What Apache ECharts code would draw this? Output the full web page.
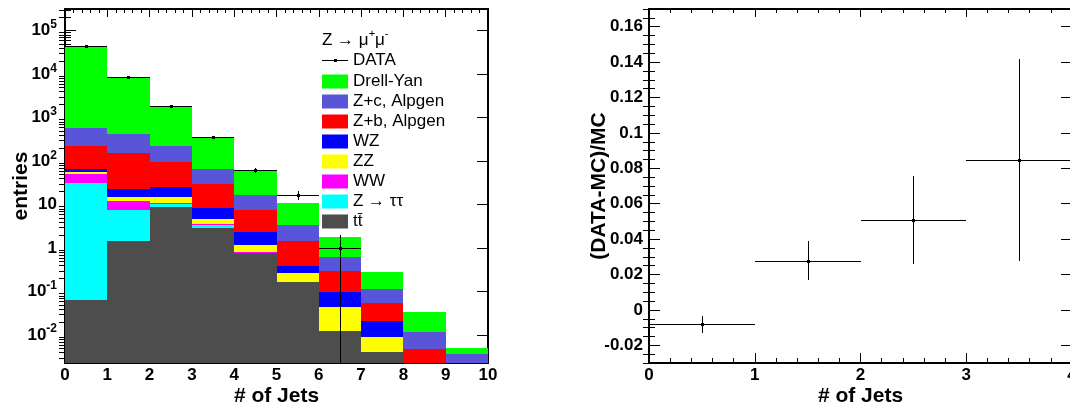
<!DOCTYPE html>
<html>
<head>
<meta charset="UTF-8">
<title>Jet multiplicity, Z to mumu</title>
<style type="text/css">
  html, body { margin:0; padding:0; background-color:#FFFFFF; }
  #container { width:1070px; height:406px; }
</style>
<script src="https://cdn.jsdelivr.net/npm/echarts@6/dist/echarts.min.js"></script>
</head>
<body>
<div id="container"></div>
<script type="text/javascript">

// bins in number of jets
var binLow  = [0, 1, 2, 3, 4, 5, 6, 7, 8, 9];
var binHigh = [1, 2, 3, 4, 5, 6, 7, 8, 9, 10];

// MC components per bin (entries), bottom of the stack first
var ttbar    = [0.064, 1.45, 8.9, 2.94, 0.757, 0.163, 0.0126, 0.0041, 0, 0];
var ztautau  = [31.7, 6.05, 1.4, 0.45, 0.02, 0, 0, 0, 0, 0];
var ww       = [19.5, 4.6, 0.7, 0.13, 0.04, 0, 0, 0, 0, 0];
var zz       = [5.7, 2.8, 3.7, 1.06, 0.35, 0.108, 0.0322, 0.0050, 0, 0];
var wz       = [7.7, 7.9, 10.3, 3.6, 1.21, 0.122, 0.0512, 0.0122, 0, 0];
var zb       = [158, 133, 70.5, 21.5, 5.1, 1.09, 0.201, 0.0323, 0.00469, 0];
var zc       = [365, 271, 127.5, 36, 9.1, 1.91, 0.315, 0.0604, 0.00684, 0.00366];
var drellYan = [43900, 8040, 1507, 274, 44.8, 7.3, 1.16, 0.167, 0.0223, 0.00136];

var stackValues = [ttbar, ztautau, ww, zz, wz, zb, zc, drellYan];
var stackNames  = ['tt\u0304', 'Z \u2192 \u03c4\u03c4', 'WW', 'ZZ', 'WZ', 'Z+b, Alpgen', 'Z+c, Alpgen', 'Drell-Yan'];
var stackColors = ['#4d4d4d', '#00ffff', '#ff00ff', '#ffff00', '#0000ff', '#ff0000', '#5954d8', '#00ff00'];

// data (first 7 bins)
var dataCounts = [44100, 8700, 1820, 369, 62, 17, 1];
var dataErrors = [210, 93, 43, 19, 7.9, 4.1, 1];

// (DATA-MC)/MC for the first 4 bins
var ratioValues = [-0.0081, 0.0277, 0.0508, 0.0847];
var ratioErrors = [0.0047, 0.011, 0.0251, 0.057];

// axes
var logMin = -2.64, logMax = 5.5;          // log10(entries)
var logTicks = [-2, -1, 0, 1, 2, 3, 4, 5];
var ratioMin = -0.03, ratioMax = 0.17;
var ratioTicks = [-0.02, 0, 0.02, 0.04, 0.06, 0.08, 0.1, 0.12, 0.14, 0.16];

var font = "'Liberation Sans', Arial, Helvetica, sans-serif";

var logMinorTicks = [];
for (var n = -3; n <= 5; n++) {
	for (var k = 2; k <= 9; k++) {
		var lv = Math.log10(k) + n;
		if (lv > logMin && lv < logMax) logMinorTicks.push(lv);
	}
}
var ratioMinorTicks = [];
for (var m = -6; m <= 34; m++) {
	if (m % 4 != 0) ratioMinorTicks.push(m * 0.005);
}

// stacked histogram rows: [low, high, log(bottom), log(top)]
var stackSeries = [];
var below = [0, 0, 0, 0, 0, 0, 0, 0, 0, 0];
for (var i = 0; i < stackValues.length; i++) {
	var rows = [];
	for (var b = 0; b < binLow.length; b++) {
		var v = stackValues[i][b];
		if (v > 0) {
			var lo = below[b] > 0 ? Math.log10(below[b]) : logMin;
			rows.push([binLow[b], binHigh[b], lo, Math.log10(below[b] + v)]);
		}
		below[b] += v;
	}
	stackSeries.push({
		type: 'custom',
		name: stackNames[i],
		xAxisIndex: 0,
		yAxisIndex: 0,
		itemStyle: { color: stackColors[i] },
		clip: true,
		silent: true,
		z: 2,
		renderItem: renderBin,
		data: rows
	});
}

var dataRows = [];
for (var d = 0; d < dataCounts.length; d++) {
	var down = dataCounts[d] - dataErrors[d];
	dataRows.push([binLow[d], binHigh[d], (binLow[d] + binHigh[d]) / 2,
		Math.log10(dataCounts[d]),
		down > 0 ? Math.log10(down) : logMin,
		Math.log10(dataCounts[d] + dataErrors[d])]);
}
var ratioRows = [];
for (var r = 0; r < ratioValues.length; r++) {
	ratioRows.push([binLow[r], binHigh[r], (binLow[r] + binHigh[r]) / 2,
		ratioValues[r], ratioValues[r] - ratioErrors[r], ratioValues[r] + ratioErrors[r]]);
}

function renderBin(params, api) {
	var p0 = api.coord([api.value(0), api.value(3)]);
	var p1 = api.coord([api.value(1), api.value(2)]);
	var x0 = Math.round(p0[0]), y0 = Math.round(p0[1]);
	var x1 = Math.round(p1[0]), y1 = Math.round(p1[1]);
	return {
		type: 'rect',
		shape: { x: x0, y: y0, width: x1 - x0, height: y1 - y0 },
		style: { fill: api.visual('color') }
	};
}

function renderErrorBar(params, api) {
	var left = api.coord([api.value(0), api.value(3)]);
	var right = api.coord([api.value(1), api.value(3)]);
	var low = api.coord([api.value(2), api.value(4)]);
	var high = api.coord([api.value(2), api.value(5)]);
	var cx = Math.round(low[0]) + 0.5;
	var cy = Math.round(left[1]) + 0.5;
	return {
		type: 'group',
		children: [
			{ type: 'line', shape: { x1: Math.round(left[0]), y1: cy, x2: Math.round(right[0]), y2: cy }, style: { stroke: '#000', lineWidth: 1 } },
			{ type: 'line', shape: { x1: cx, y1: Math.round(high[1]), x2: cx, y2: Math.round(low[1]) }, style: { stroke: '#000', lineWidth: 1 } },
			{ type: 'rect', shape: { x: cx - 1.5, y: cy - 1.5, width: 3, height: 3 }, style: { fill: '#000' } }
		]
	};
}

function logLabel(value) {
	var e = Math.round(value);
	if (e === 0) return '{b|1}';
	if (e === 1) return '{b|10}';
	return '{b|10}{s|' + e + '}';
}
function ratioLabel(value) {
	return String(Number(value.toFixed(2)));
}

var axisLine = { show: true, onZero: false, lineStyle: { color: '#000', width: 2 } };
var tickStyle = { color: '#000', width: 1 };
var labelBase = { color: '#000', fontSize: 17, fontWeight: 'bold', fontFamily: font };
var nameBase = { color: '#000', fontSize: 21, fontWeight: 'bold', fontFamily: font };
var logRich = {
	b: { color: '#000', fontSize: 17, fontWeight: 'bold', fontFamily: font, lineHeight: 24 },
	s: { color: '#000', fontSize: 12, fontWeight: 'bold', fontFamily: font, verticalAlign: 'top' }
};

function xAxis(grid, max, position, title) {
	return {
		gridIndex: grid, type: 'value', position: position, min: 0, max: max, interval: 1,
		axisLine: axisLine,
		axisTick: { show: true, inside: true, length: position == 'bottom' ? 10 : 8, lineStyle: tickStyle },
		minorTick: { show: true, splitNumber: 5, length: position == 'bottom' ? 5 : 4, lineStyle: tickStyle },
		splitLine: { show: false },
		axisLabel: position == 'bottom' ? Object.assign({ show: true, margin: 4 }, labelBase) : { show: false },
		name: title, nameLocation: 'middle', nameGap: 23, nameMoveOverlap: false,
		nameTextStyle: nameBase
	};
}

function yAxis(grid, position, min, max, ticks, len, label, title, gap) {
	return {
		gridIndex: grid, type: 'value', position: position, min: min, max: max,
		axisLine: len > 7 ? axisLine : { show: false },
		axisTick: { show: true, inside: true, length: len, lineStyle: tickStyle, customValues: ticks },
		splitLine: { show: false },
		axisLabel: label ? label : { show: false },
		name: title, nameLocation: 'middle', nameRotate: 90, nameGap: gap, nameMoveOverlap: false,
		nameTextStyle: nameBase
	};
}

var dom = document.getElementById('container');
var myChart = echarts.init(dom, null, { renderer: 'canvas' });

var option = {
	animation: false,
	backgroundColor: '#ffffff',
	textStyle: { fontFamily: font },
	grid: [
		{ left: 65, top: 9, width: 423, height: 354, containLabel: false, outerBoundsMode: 'none' },
		{ left: 649, top: 9, width: 423, height: 354, containLabel: false, outerBoundsMode: 'none' }
	],
	xAxis: [
		xAxis(0, 10, 'bottom', '# of Jets'),
		xAxis(0, 10, 'top', ''),
		xAxis(1, 4, 'bottom', '# of Jets'),
		xAxis(1, 4, 'top', '')
	],
	yAxis: [
		yAxis(0, 'left', logMin, logMax, logTicks, 11,
			{ show: true, margin: 8, customValues: logTicks, formatter: logLabel, rich: logRich }, 'entries', 33),
		yAxis(0, 'left', logMin, logMax, logMinorTicks, 6, null, '', 0),
		yAxis(0, 'right', logMin, logMax, logTicks, 11, null, '', 0),
		yAxis(0, 'right', logMin, logMax, logMinorTicks, 6, null, '', 0),
		yAxis(1, 'left', ratioMin, ratioMax, ratioTicks, 11,
			Object.assign({ show: true, margin: 6, customValues: ratioTicks, formatter: ratioLabel }, labelBase), '(DATA-MC)/MC', 39),
		yAxis(1, 'left', ratioMin, ratioMax, ratioMinorTicks, 6, null, '', 0),
		yAxis(1, 'right', ratioMin, ratioMax, ratioTicks, 11, null, '', 0),
		yAxis(1, 'right', ratioMin, ratioMax, ratioMinorTicks, 6, null, '', 0)
	],
	legend: {
		orient: 'vertical', left: 322, top: 73, padding: 0,
		itemWidth: 26, itemHeight: 14, itemGap: 3,
		icon: 'rect', selectedMode: false,
		data: stackNames.slice().reverse(),
		textStyle: { color: '#000', fontSize: 17, fontFamily: font }
	},
	graphic: [
		{ type: 'text', x: 322, y: 28, style: { text: '{n|Z \u2192 \u03bc}{s|+}{n|\u03bc}{s|-}', fill: '#000', fontSize: 17, fontFamily: font,
			rich: {
				n: { fontSize: 17, fontFamily: font, lineHeight: 24, fill: '#000' },
				s: { fontSize: 11, fontFamily: font, verticalAlign: 'top', fill: '#000' }
			} } },
		{ type: 'line', shape: { x1: 322, y1: 60.5, x2: 348, y2: 60.5 }, style: { stroke: '#000', lineWidth: 1 } },
		{ type: 'rect', shape: { x: 334, y: 59, width: 3, height: 3 }, style: { fill: '#000' } },
		{ type: 'text', x: 353, y: 60, style: { text: 'DATA', fill: '#000', fontSize: 17, fontFamily: font, verticalAlign: 'middle' } }
	],
	series: stackSeries.concat([
		{
			type: 'custom', name: 'DATA', xAxisIndex: 0, yAxisIndex: 0, clip: true, silent: true, z: 5,
			renderItem: renderErrorBar, data: dataRows
		},
		{
			type: 'custom', name: 'ratio', xAxisIndex: 2, yAxisIndex: 4, clip: true, silent: true, z: 5,
			renderItem: renderErrorBar, data: ratioRows
		}
	])
};

myChart.setOption(option, true);

window.onresize = function() {
	myChart.resize();
};
</script>
</body>
</html>
